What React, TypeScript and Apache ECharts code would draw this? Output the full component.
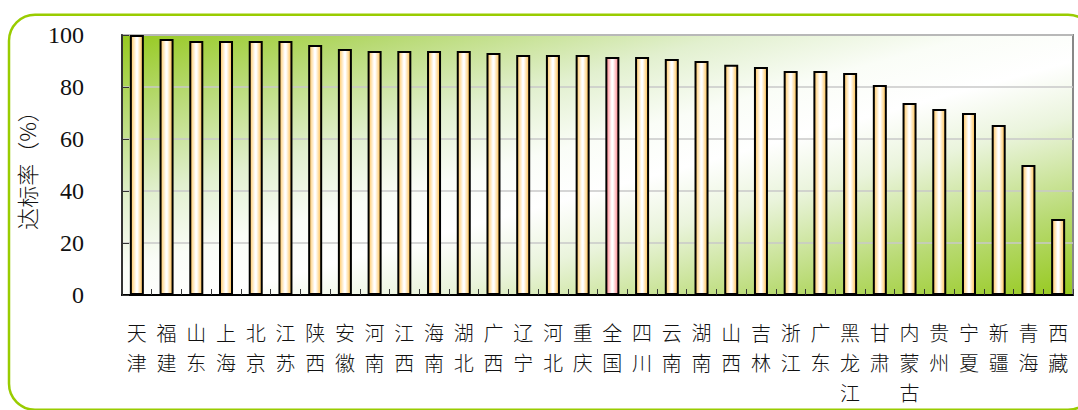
import React, { useEffect, useRef } from "react";
import * as echarts from "echarts";

const categories: string[] = [
  "天\n津", "福\n建", "山\n东", "上\n海", "北\n京", "江\n苏", "陕\n西", "安\n徽",
  "河\n南", "江\n西", "海\n南", "湖\n北", "广\n西", "辽\n宁", "河\n北", "重\n庆",
  "全\n国", "四\n川", "云\n南", "湖\n南", "山\n西", "吉\n林", "浙\n江", "广\n东",
  "黑\n龙\n江", "甘\n肃", "内\n蒙\n古", "贵\n州", "宁\n夏", "新\n疆", "青\n海", "西\n藏",
];

const rates: number[] = [
  100, 98.5, 97.7, 97.7, 97.7, 97.7, 96.2, 94.6,
  93.8, 93.8, 93.8, 93.8, 93.1, 92.3, 92.3, 92.3,
  91.5, 91.5, 90.8, 90.0, 88.6, 87.7, 86.2, 86.2,
  85.4, 80.8, 73.8, 71.5, 70.0, 65.4, 50.0, 29.2,
];

const highlightCategory = "全\n国";
const yTicks = { min: 0, max: 100, interval: 20 };

const barFill = {
  type: "linear", x: 0, y: 0, x2: 1, y2: 0,
  colorStops: [
    { offset: 0, color: "#FFC65E" },
    { offset: 0.45, color: "#FFFFFF" },
    { offset: 0.55, color: "#FFFFFF" },
    { offset: 1, color: "#FFBE48" },
  ],
};
const redFill = {
  type: "linear", x: 0, y: 0, x2: 1, y2: 0,
  colorStops: [
    { offset: 0, color: "#FF7F86" },
    { offset: 0.45, color: "#FFFFFF" },
    { offset: 0.55, color: "#FFFFFF" },
    { offset: 1, color: "#FF7F86" },
  ],
};
const plotBg = {
  type: "linear", x: 0, y: 0, x2: 1, y2: 1,
  colorStops: [
    { offset: 0, color: "#96C91E" },
    { offset: 0.15, color: "#B8DA74" },
    { offset: 0.32, color: "#E2F0CF" },
    { offset: 0.45, color: "#FAFDF7" },
    { offset: 0.55, color: "#FFFFFF" },
    { offset: 0.66, color: "#EAF4DC" },
    { offset: 0.84, color: "#B8DA72" },
    { offset: 1, color: "#96C91E" },
  ],
};

const SERIF = "Liberation Serif";
const CJK = "Noto Sans CJK SC";

export default function App() {
  const ref = useRef<HTMLDivElement>(null);
  useEffect(() => {
    if (!ref.current) return;
    const chart = echarts.init(ref.current, null, { renderer: "svg" });
    chart.setOption({
      animation: false,
      backgroundColor: "#FFFFFF",
      grid: {
        left: 122,
        right: 5,
        top: 35,
        bottom: 115,
        show: true,
        backgroundColor: plotBg,
        borderColor: "#888888",
        borderWidth: 2,
      },
      graphic: [
        {
          type: "rect",
          z: 100,
          silent: true,
          shape: { x: 9, y: 14.7, width: 1085, height: 395, r: 26 },
          style: { fill: "none", stroke: "#99CC00", lineWidth: 2.5 },
        },
      ],
      xAxis: {
        type: "category",
        data: categories,
        boundaryGap: true,
        axisLine: { show: true, lineStyle: { color: "#000000", width: 2 } },
        axisTick: { show: true, inside: true, length: 6, lineStyle: { color: "#333333", width: 1 } },
        axisLabel: {
          interval: 0,
          margin: 22,
          color: "#111111",
          fontSize: 20,
          lineHeight: 30,
          fontFamily: CJK,
          fontWeight: 300,
        },
        splitLine: { show: false },
      },
      yAxis: {
        type: "value",
        min: yTicks.min,
        max: yTicks.max,
        interval: yTicks.interval,
        name: "达标率（%）",
        nameLocation: "middle",
        nameRotate: 90,
        nameGap: 80,
        nameTextStyle: { fontSize: 22, color: "#111111", fontFamily: CJK, fontWeight: 300 },
        axisLine: { show: true, lineStyle: { color: "#333333", width: 2 } },
        axisTick: { show: true, inside: true, length: 7, lineStyle: { color: "#333333" } },
        axisLabel: { margin: 38, fontSize: 24, color: "#111111", fontFamily: SERIF },
        splitLine: { show: true, lineStyle: { color: "#C8C8C8", width: 1.5 } },
      },
      series: [
        {
          type: "bar",
          barWidth: 14,
          data: rates.map((v, i) => ({
            value: v,
            itemStyle: {
              color: categories[i] === highlightCategory ? redFill : barFill,
              borderColor: "#000000",
              borderWidth: 2,
            },
          })),
        },
      ],
    });
    return () => chart.dispose();
  }, []);
  return (
    <div
      ref={ref}
      style={{ position: "fixed", left: 0, top: 0, width: 1078, height: 410 }}
    />
  );
}
